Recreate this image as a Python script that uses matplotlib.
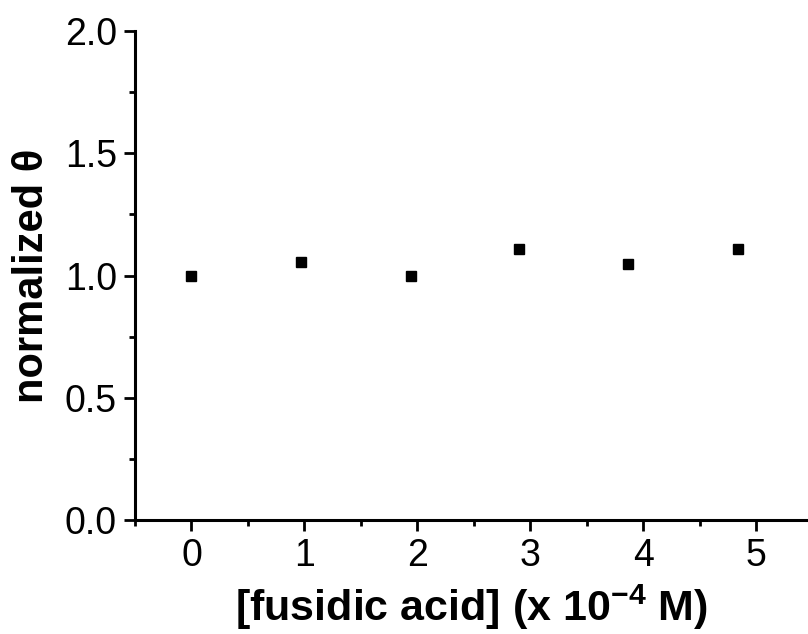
import matplotlib.pyplot as plt
from matplotlib.ticker import MultipleLocator

# Data
conc = [0.0, 0.97, 1.94, 2.90, 3.87, 4.84]          # [fusidic acid] (x 10^-4 M)
theta = [1.00, 1.056, 1.00, 1.107, 1.047, 1.107]    # normalized theta

plt.rcParams['font.family'] = ['Liberation Sans', 'DejaVu Sans']
plt.rcParams['mathtext.fontset'] = 'custom'
plt.rcParams['mathtext.rm'] = 'Liberation Sans'
plt.rcParams['mathtext.bf'] = 'Liberation Sans:bold'

fig = plt.figure(figsize=(8.08, 6.34), dpi=100)
ax = fig.add_axes([135 / 808, 114 / 634, 1 - 135 / 808, (520 - 31) / 634])

ax.plot(conc, theta, 's', color='black', markersize=7, clip_on=False)

ax.set_xlim(-0.5, 5.46)
ax.set_ylim(0, 2.0)
ax.xaxis.set_major_locator(MultipleLocator(1))
ax.xaxis.set_minor_locator(MultipleLocator(0.5))
ax.yaxis.set_major_locator(MultipleLocator(0.5))
ax.yaxis.set_minor_locator(MultipleLocator(0.25))
ax.yaxis.set_major_formatter(plt.FormatStrFormatter('%.1f'))

for side in ['top', 'right']:
    ax.spines[side].set_visible(False)
for side in ['left', 'bottom']:
    ax.spines[side].set_linewidth(2.2)

ax.tick_params(which='major', direction='out', length=8, width=2.0, labelsize=27, pad=5)
ax.tick_params(which='minor', direction='out', length=4, width=2.0)

ax.set_xlabel('[fusidic acid] (x 10$^{\\mathbf{-4}}$ M)', fontsize=31, fontweight='bold', labelpad=6)
ax.set_ylabel('normalized θ', fontsize=30, fontweight='bold', labelpad=9)

fig.savefig('out.png', dpi=100)
